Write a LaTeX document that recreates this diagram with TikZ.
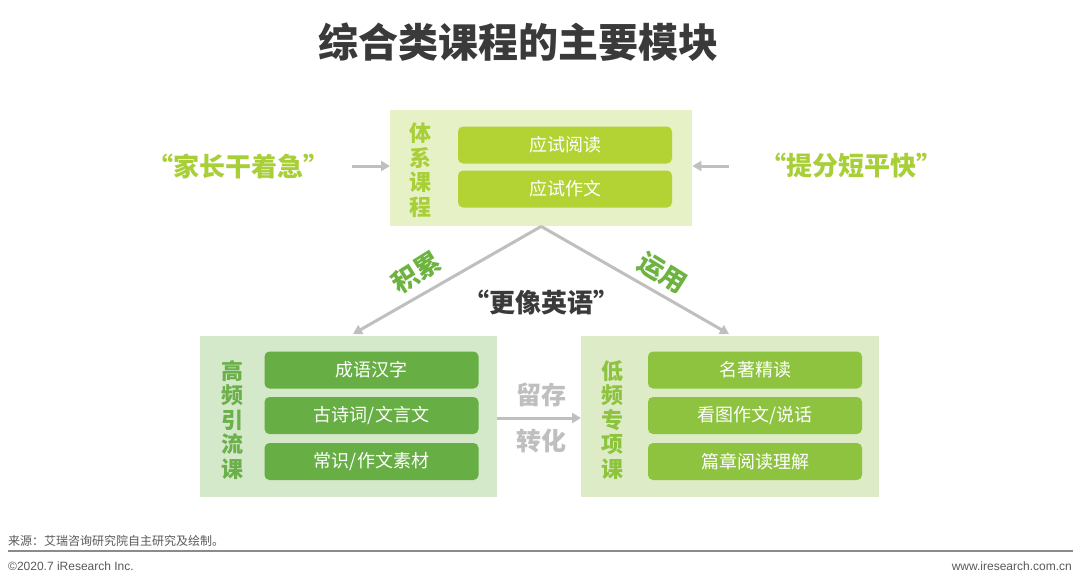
\documentclass[tikz,border=0pt]{standalone}
\usepackage{fontspec}
\setmainfont{Noto Sans CJK SC}
\newfontfamily\latinfont{Liberation Sans}
\usetikzlibrary{arrows.meta}
\definecolor{topfill}{HTML}{E6F1C6}
\definecolor{topinner}{HTML}{B3D334}
\definecolor{toptext}{HTML}{A9CF38}
\definecolor{lfill}{HTML}{D4E8CA}
\definecolor{linner}{HTML}{67AE45}
\definecolor{ltext}{HTML}{6BB04A}
\definecolor{rfill}{HTML}{DDEBC6}
\definecolor{rinner}{HTML}{8DC33F}
\definecolor{rtext}{HTML}{8DC33F}
\definecolor{arrowgray}{HTML}{BFBFBF}
\definecolor{titlegray}{HTML}{3A3A3A}
\definecolor{footgray}{HTML}{595959}
\definecolor{midgreen}{HTML}{6CB33F}
\tikzset{
  panel/.style={draw=none, inner sep=0pt, anchor=north west},
  itembox/.style={rounded corners=5pt, inner sep=0pt, minimum width=214pt, minimum height=37pt, text=white, font=\fontsize{18}{20}\selectfont},
  vtext/.style={font=\bfseries\fontsize{22}{24.5}\selectfont, align=center, inner sep=0pt},
  quote/.style={font=\bfseries\fontsize{26}{28}\selectfont, inner sep=0pt},
  garrow/.style={draw=arrowgray, line width=3pt, -{Triangle[length=9pt,width=10pt]}},
}
\begin{document}
\begin{tikzpicture}[x=1pt,y=-1pt]
\useasboundingbox (0,0) rectangle (1080,586);
\fill[white] (0,0) rectangle (1080,586);
% title
\node[font=\bfseries\fontsize{40}{42}\selectfont, text=titlegray, inner sep=0pt] (title) at (518,42) {综合类课程的主要模块};
% top box
\node[panel, fill=topfill, minimum width=302pt, minimum height=116pt] (top) at (390,110) {};
\node[vtext, text=toptext] (topv) at (420,170) {体\\系\\课\\程};
\node[itembox, fill=topinner] (t1) at (565,145) {应试阅读};
\node[itembox, fill=topinner] (t2) at (565,189) {应试作文};
% quotes
\node[quote, text=toptext] (ql) at (238,166) {“家长干着急”};
\node[quote, text=toptext] (qr) at (851,166) {“提分短平快”};
\coordinate (qlend) at (352,166);
\coordinate (qrend) at (729,166);
\draw[garrow] (qlend) -- (top.west |- qlend);
\draw[garrow] (qrend) -- (top.east |- qrend);
% bottom left box
\node[panel, fill=lfill, minimum width=297pt, minimum height=161pt] (left) at (200,336) {};
\node[vtext, text=ltext] (leftv) at (232,420) {高\\频\\引\\流\\课};
\node[itembox, fill=linner] (l1) at (371.5,370) {成语汉字};
\node[itembox, fill=linner] (l2) at (371.5,415.5) {古诗词/文言文};
\node[itembox, fill=linner] (l3) at (371.5,461.5) {常识/作文素材};
% bottom right box
\node[panel, fill=rfill, minimum width=298pt, minimum height=161pt] (right) at (581,336) {};
\node[vtext, text=rtext] (rightv) at (612,420) {低\\频\\专\\项\\课};
\node[itembox, fill=rinner] (r1) at (755,370) {名著精读};
\node[itembox, fill=rinner] (r2) at (755,415.5) {看图作文/说话};
\node[itembox, fill=rinner] (r3) at (755,461.5) {篇章阅读理解};
% connectors
\coordinate (lend) at (353,334);
\coordinate (rend) at (729,334);
\draw[garrow] (top.south) -- (lend);
\draw[garrow] (top.south) -- (rend);
\node[font=\bfseries\fontsize{26}{28}\selectfont, text=midgreen, rotate=32, inner sep=0pt] (acc) at (416,272) {积累};
\node[font=\bfseries\fontsize{26}{28}\selectfont, text=midgreen, rotate=-32, inner sep=0pt] (use) at (662,273) {运用};
\node[quote, text=titlegray] (eng) at (541,302) {“更像英语”};
\draw[garrow] (left.east |- 0,418) -- (right.west |- 0,418);
\node[font=\bfseries\fontsize{25}{27}\selectfont, text=arrowgray, inner sep=0pt] (keep) at (541,395) {留存};
\node[font=\bfseries\fontsize{25}{27}\selectfont, text=arrowgray, inner sep=0pt] (conv) at (541,441) {转化};
% footer
\node[anchor=west, font=\fontsize{12}{14}\selectfont, text=footgray, inner sep=0pt] (src) at (8,541) {来源：艾瑞咨询研究院自主研究及绘制。};
\coordinate (fl) at (8,551);
\coordinate (fr) at (1073,551);
\draw[draw=footgray!70, line width=2pt] (fl) -- (fr);
\node[anchor=west, font=\latinfont\fontsize{12}{14}\selectfont, text=footgray, inner sep=0pt] (copy) at (8,566) {©2020.7 iResearch Inc.};
\node[anchor=east, font=\latinfont\fontsize{12}{14}\selectfont, text=footgray, inner sep=0pt] (web) at (1072,566) {www.iresearch.com.cn};
\end{tikzpicture}
\end{document}
